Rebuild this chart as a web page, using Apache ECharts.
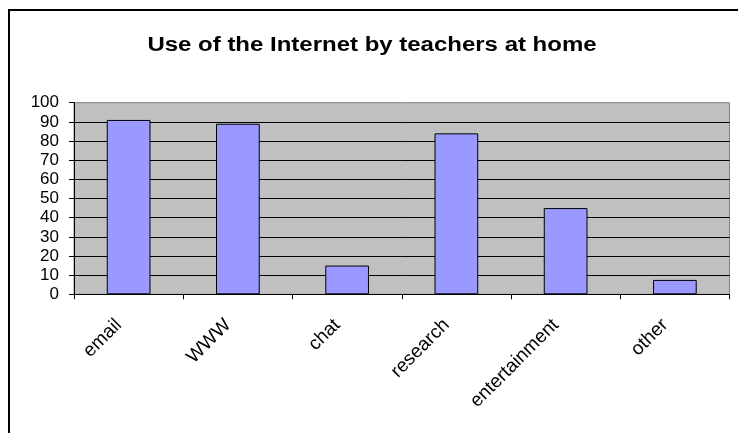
<!DOCTYPE html>
<html>
<head>
<meta charset="utf-8">
<script src="https://cdn.jsdelivr.net/npm/echarts@6/dist/echarts.min.js"></script>
<style>
  html, body { margin: 0; padding: 0; background: #fff; }
  #chart { width: 738px; height: 433px; }
</style>
</head>
<body>
<div id="chart"></div>
<script>
// Survey: share of teachers using each internet activity at home (%)
const categories = ['email', 'WWW', 'chat', 'research', 'entertainment', 'other'];
const usage = [91, 89, 15, 84, 45, 7.5];
const titleText = 'Use of the Internet by teachers at home';

const chart = echarts.init(document.getElementById('chart'), null, { renderer: 'canvas' });
const font = '"Liberation Sans", Arial, sans-serif';

chart.setOption({
  animation: false,
  backgroundColor: '#ffffff',
  textStyle: { fontFamily: font },
  graphic: [{
    // outer frame of the chart (left and top edges)
    type: 'polyline',
    silent: true,
    shape: { points: [[9, 433], [9, 10], [738, 10]] },
    style: { stroke: '#000', lineWidth: 2, fill: null }
  }, {
    // chart title, drawn slightly wide
    type: 'text',
    silent: true,
    x: 372,
    y: 46,
    scaleX: 1.23,
    style: {
      text: titleText,
      fill: '#000',
      font: 'bold 19.5px "Liberation Sans", Arial, sans-serif',
      align: 'center',
      verticalAlign: 'middle'
    }
  }],
  grid: {
    left: 74,
    right: 8.5,
    top: 102.7,
    bottom: 138.7,
    show: true,
    backgroundColor: '#C0C0C0',
    borderColor: '#808080',
    borderWidth: 1
  },
  xAxis: {
    type: 'category',
    data: categories,
    axisLine: { show: true, lineStyle: { color: '#000', width: 1 } },
    axisTick: { show: true, length: 5, lineStyle: { color: '#000' } },
    axisLabel: {
      rotate: 45,
      margin: 18,
      padding: [0, 14, 0, 0],
      fontSize: 19,
      color: '#000',
      fontFamily: font,
      interval: 0
    }
  },
  yAxis: {
    type: 'value',
    min: 0,
    max: 100,
    interval: 10,
    axisLine: { show: true, lineStyle: { color: '#000', width: 1 } },
    axisTick: { show: true, length: 5, lineStyle: { color: '#000' } },
    axisLabel: { fontSize: 17, color: '#000', margin: 15, fontFamily: font },
    splitLine: { show: true, showMaxLine: false, lineStyle: { color: '#000', width: 1 } }
  },
  series: [{
    type: 'bar',
    data: usage,
    barWidth: '40%',
    itemStyle: { color: '#9999FF', borderColor: '#000', borderWidth: 1 }
  }]
});
</script>
</body>
</html>
